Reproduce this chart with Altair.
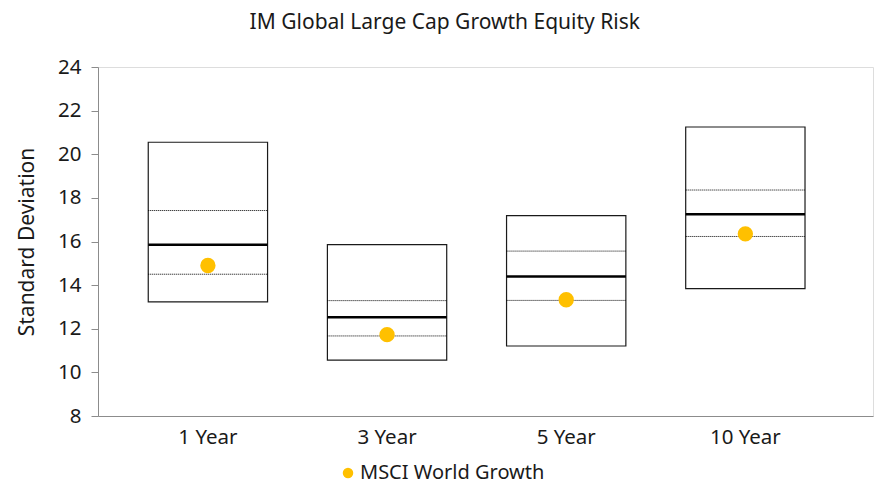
import altair as alt
import pandas as pd

periods = ["1 Year", "3 Year", "5 Year", "10 Year"]
top_vals = [20.55, 15.86, 17.19, 21.25]
upper_q = [17.42, 13.29, 15.56, 18.36]
median_vals = [15.85, 12.53, 14.40, 17.25]
lower_q = [14.50, 11.67, 13.30, 16.23]
bottom_vals = [13.23, 10.56, 11.21, 13.84]
msci_vals = [14.90, 11.73, 13.33, 16.35]
series_name = "MSCI World Growth"

df = pd.DataFrame({
    "period": periods,
    "top": top_vals,
    "uq": upper_q,
    "med": median_vals,
    "lq": lower_q,
    "bot": bottom_vals,
    "msci": msci_vals,
    "series": [series_name] * len(periods),
})

FONT = "Noto Sans"
TXT = "#1a1a1a"

x_enc = alt.X(
    "period:N",
    sort=periods,
    scale=alt.Scale(paddingInner=0.334, paddingOuter=0.33, align=0.425),
    axis=alt.Axis(
        title=None, labelAngle=0, ticks=False, domainColor="#8c8c8c",
        labelFontSize=20.5, labelPadding=11, labelColor=TXT, labelFont=FONT,
    ),
)

y_scale = alt.Scale(domain=[8, 24], nice=False, zero=False)
y_axis = alt.Axis(
    title="Standard Deviation", values=list(range(8, 25, 2)), grid=False,
    domainColor="#8c8c8c", tickColor="#8c8c8c", tickSize=7, labelPadding=10,
    labelFontSize=20.5, labelColor=TXT, labelFont=FONT,
    titleFontSize=21, titleFontWeight="normal", titleColor=TXT, titleFont=FONT,
    titlePadding=20,
)

base = alt.Chart(df)

boxes = base.mark_rect(fill="white", stroke="#1a1a1a", strokeWidth=1.2).encode(
    x=x_enc,
    y=alt.Y("bot:Q", scale=y_scale, axis=y_axis),
    y2="top:Q",
)

uq_rule = base.mark_rule(color="#000", strokeWidth=1, strokeDash=[1, 1]).encode(
    x=alt.X("period:N", sort=periods, bandPosition=0),
    x2=alt.X2("period:N", bandPosition=1),
    y=alt.Y("uq:Q", scale=y_scale),
)
lq_rule = base.mark_rule(color="#000", strokeWidth=1, strokeDash=[1, 1]).encode(
    x=alt.X("period:N", sort=periods, bandPosition=0),
    x2=alt.X2("period:N", bandPosition=1),
    y=alt.Y("lq:Q", scale=y_scale),
)
med_rule = base.mark_rule(color="#000", strokeWidth=2.5).encode(
    x=alt.X("period:N", sort=periods, bandPosition=0),
    x2=alt.X2("period:N", bandPosition=1),
    y=alt.Y("med:Q", scale=y_scale),
)

dots = base.mark_circle(size=235, opacity=1).encode(
    x=alt.X("period:N", sort=periods),
    y=alt.Y("msci:Q", scale=y_scale),
    color=alt.Color(
        "series:N",
        scale=alt.Scale(range=["#FFC000"]),
        legend=alt.Legend(
            title=None, orient="none", legendX=240, legendY=396,
            symbolSize=110, symbolType="circle", labelFontSize=20,
            labelColor=TXT, labelFont=FONT, padding=0, labelOffset=2,
            labelLimit=0,
        ),
    ),
)

chart = alt.layer(boxes, uq_rule, lq_rule, med_rule, dots).properties(
    width=775,
    height=349,
    autosize=alt.AutoSizeParams(type="none"),
    padding={"left": 90, "top": 59, "right": 5, "bottom": 68},
    title=alt.TitleParams(
        "IM Global Large Cap Growth Equity Risk",
        fontSize=21, font=FONT, fontWeight="normal", color=TXT,
        anchor="middle", frame="bounds", offset=24,
    ),
).configure_view(stroke=None).configure(background="white")

chart.save("out.html", embed_options={"renderer": "svg", "actions": False})
